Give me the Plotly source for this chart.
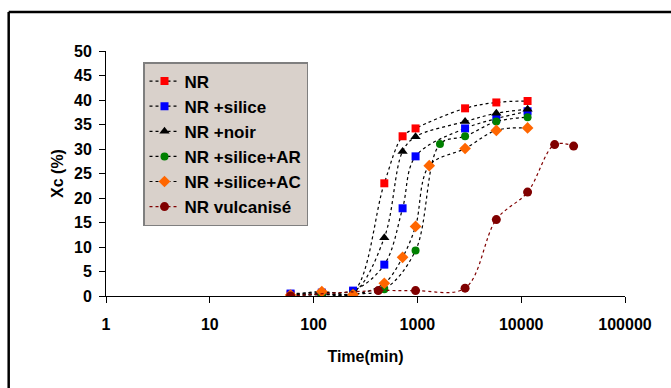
import plotly.graph_objects as go

# ---- data ----
t_nr = [60, 120, 240, 480, 720, 960, 2880, 5760, 11520]
xc_nr = [0.3, 0.5, 0.8, 23.0, 32.6, 34.2, 38.3, 39.5, 39.8]

t_silice = [60, 120, 240, 480, 720, 960, 2880, 5760, 11520]
xc_silice = [0.5, 0.7, 1.1, 6.4, 17.9, 28.5, 34.2, 36.2, 37.7]

t_noir = [60, 120, 240, 480, 720, 960, 2880, 5760, 11520]
xc_noir = [0.2, 0.3, 0.6, 11.9, 29.5, 32.5, 35.6, 37.3, 38.1]

t_ar = [60, 120, 240, 480, 960, 1650, 2880, 5760, 11520]
xc_ar = [0.1, 0.3, 0.4, 1.4, 9.3, 31.0, 32.6, 35.6, 36.5]

t_ac = [60, 120, 240, 480, 720, 960, 1300, 2880, 5760, 11520]
xc_ac = [0.2, 0.9, 0.3, 2.6, 7.9, 14.2, 26.6, 30.1, 33.8, 34.3]

t_vulc = [60, 420, 960, 2880, 5760, 11520, 21000, 32000]
xc_vulc = [0.0, 1.1, 1.1, 1.6, 15.6, 21.2, 30.9, 30.6]

names = ["NR", "NR +silice", "NR +noir", "NR +silice+AR", "NR +silice+AC", "NR vulcanisé"]
colors = ["#ff0000", "#0000ff", "#000000", "#008000", "#ff6600", "#800000"]
line_colors = ["#000000", "#000000", "#000000", "#000000", "#000000", "#800000"]
symbols = ["square", "square", "triangle-up", "circle", "diamond", "circle"]
sizes = [8, 8, 9, 8, 9, 9]

series = [(t_nr, xc_nr), (t_silice, xc_silice), (t_noir, xc_noir),
          (t_ar, xc_ar), (t_ac, xc_ac), (t_vulc, xc_vulc)]

FONT = "Liberation Sans, Arial, sans-serif"

fig = go.Figure()
for i, (tx, ty) in enumerate(series):
    fig.add_trace(go.Scatter(
        x=tx, y=ty, name=names[i], mode="lines+markers",
        legendgroup=f"g{i}",
        line=dict(color=line_colors[i], width=1.2, dash="dot", shape="spline", smoothing=1.0),
        marker=dict(color=colors[i], symbol=symbols[i], size=sizes[i], line=dict(width=0)),
    ))

# outer chart frame: left and top edges only
frame = dict(color="#000000", width=2.5)
fig.add_shape(type="line", xref="paper", yref="paper",
              x0=-0.1875, x1=-0.1875, y0=-0.5, y1=1.159, line=frame, layer="below")
fig.add_shape(type="line", xref="paper", yref="paper",
              x0=-0.1875, x1=1.09, y0=1.159, y1=1.159, line=frame, layer="below")

fig.update_layout(
    width=671, height=388,
    margin=dict(l=106, r=46, t=51, b=92),
    paper_bgcolor="white", plot_bgcolor="white",
    font=dict(family=FONT, size=16, color="black"),
    showlegend=True,
    legend=dict(
        x=0.0713, y=0.955, xanchor="left", yanchor="top",
        bgcolor="#d9d1cb", bordercolor="#7f7f7f", borderwidth=1.5,
        font=dict(family=FONT, size=17, color="black", weight="bold"),
        traceorder="grouped", tracegroupgap=0,
    ),
    xaxis=dict(
        type="log", range=[0, 5],
        tickvals=[1, 10, 100, 1000, 10000, 100000],
        ticktext=["1", "10", "100", "1000", "10000", "100000"],
        ticks="outside", ticklen=6, tickcolor="black", tickwidth=1,
        ticklabelstandoff=8,
        showline=True, linecolor="black", linewidth=1,
        showgrid=False, zeroline=False,
        tickfont=dict(family=FONT, size=16, weight="bold"),
        title=dict(text="Time(min)", font=dict(family=FONT, size=16, weight="bold"), standoff=18),
    ),
    yaxis=dict(
        range=[0, 50], dtick=5,
        ticks="outside", ticklen=6, tickcolor="black", tickwidth=1,
        ticklabelstandoff=4,
        showline=True, linecolor="black", linewidth=1,
        showgrid=False, zeroline=False,
        tickfont=dict(family=FONT, size=16, weight="bold"),
        title=dict(text="Xc (%)", font=dict(family=FONT, size=16, weight="bold"), standoff=6),
    ),
)

fig.write_html("out.html")
